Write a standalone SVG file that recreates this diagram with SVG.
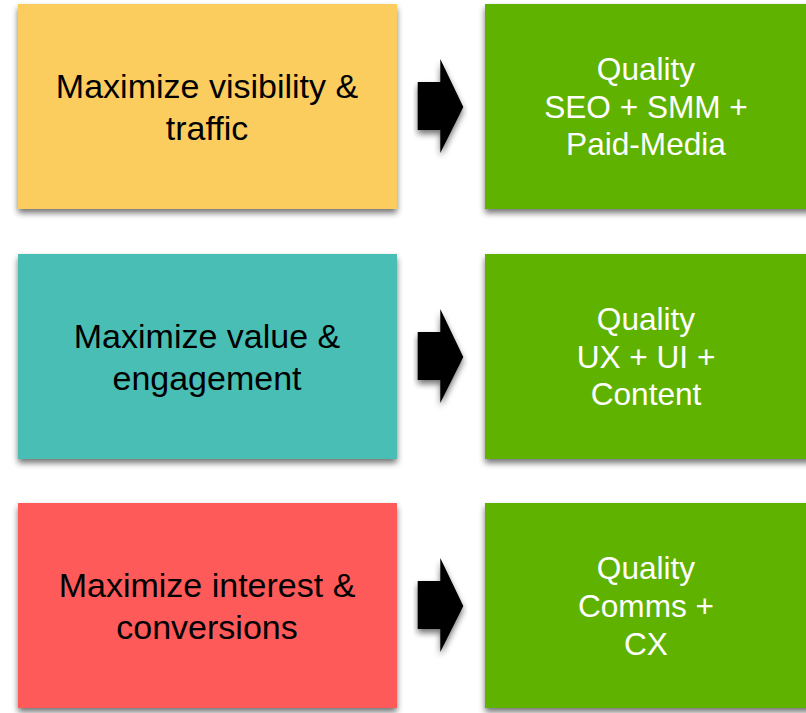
<svg xmlns="http://www.w3.org/2000/svg" width="806" height="713" viewBox="0 0 806 713">
  <defs>
    <filter id="shadow" x="-10%" y="-10%" width="120%" height="125%">
      <feGaussianBlur in="SourceAlpha" stdDeviation="3"/>
      <feOffset dx="0" dy="4" result="blur"/>
      <feComponentTransfer><feFuncA type="linear" slope="0.55"/></feComponentTransfer>
      <feMerge><feMergeNode/><feMergeNode in="SourceGraphic"/></feMerge>
    </filter>
    <path id="arrow" d="M417.7,82 H440.3 V59 L463.3,107 L440.3,153 V130 H417.7 Z"/>
  </defs>
  <style>
    .box { filter: url(#shadow); }
    .goal { font-family: "Liberation Sans", Arial, sans-serif; font-size: 34px; fill: #000; text-anchor: middle; }
    .means { font-family: "Liberation Sans", Arial, sans-serif; font-size: 31.6px; fill: #fff; text-anchor: middle; }
    .yellow { fill: #FBCD5E; }
    .teal { fill: #48BEB5; }
    .red { fill: #FE5A5A; }
    .green { fill: #5FB304; }
  </style>
  <rect width="806" height="713" fill="#ffffff"/>

  <!-- goals (left column) -->
  <g id="goal-visibility">
    <rect class="box yellow" x="18" y="4" width="379" height="205"/>
    <text class="goal" x="207" y="98">Maximize visibility &amp;</text>
    <text class="goal" x="207" y="140">traffic</text>
  </g>
  <g id="goal-value">
    <rect class="box teal" x="18" y="254" width="379" height="205"/>
    <text class="goal" x="207" y="348">Maximize value &amp;</text>
    <text class="goal" x="207" y="390">engagement</text>
  </g>
  <g id="goal-interest">
    <rect class="box red" x="18" y="503" width="379" height="205"/>
    <text class="goal" x="207" y="597">Maximize interest &amp;</text>
    <text class="goal" x="207" y="639">conversions</text>
  </g>

  <!-- means (right column) -->
  <g id="means-seo">
    <rect class="box green" x="485" y="4" width="330" height="205"/>
    <text class="means" x="646" y="80">Quality</text>
    <text class="means" x="646" y="118">SEO + SMM +</text>
    <text class="means" x="646" y="155">Paid-Media</text>
  </g>
  <g id="means-ux">
    <rect class="box green" x="485" y="254" width="330" height="205"/>
    <text class="means" x="646" y="330">Quality</text>
    <text class="means" x="646" y="368">UX + UI +</text>
    <text class="means" x="646" y="405">Content</text>
  </g>
  <g id="means-comms">
    <rect class="box green" x="485" y="503" width="330" height="205"/>
    <text class="means" x="646" y="579">Quality</text>
    <text class="means" x="646" y="617">Comms +</text>
    <text class="means" x="646" y="655">CX</text>
  </g>

  <!-- connectors -->
  <g id="connectors" fill="#000" filter="url(#shadow)">
    <use href="#arrow"/>
    <use href="#arrow" y="250"/>
    <use href="#arrow" y="499"/>
  </g>
</svg>
